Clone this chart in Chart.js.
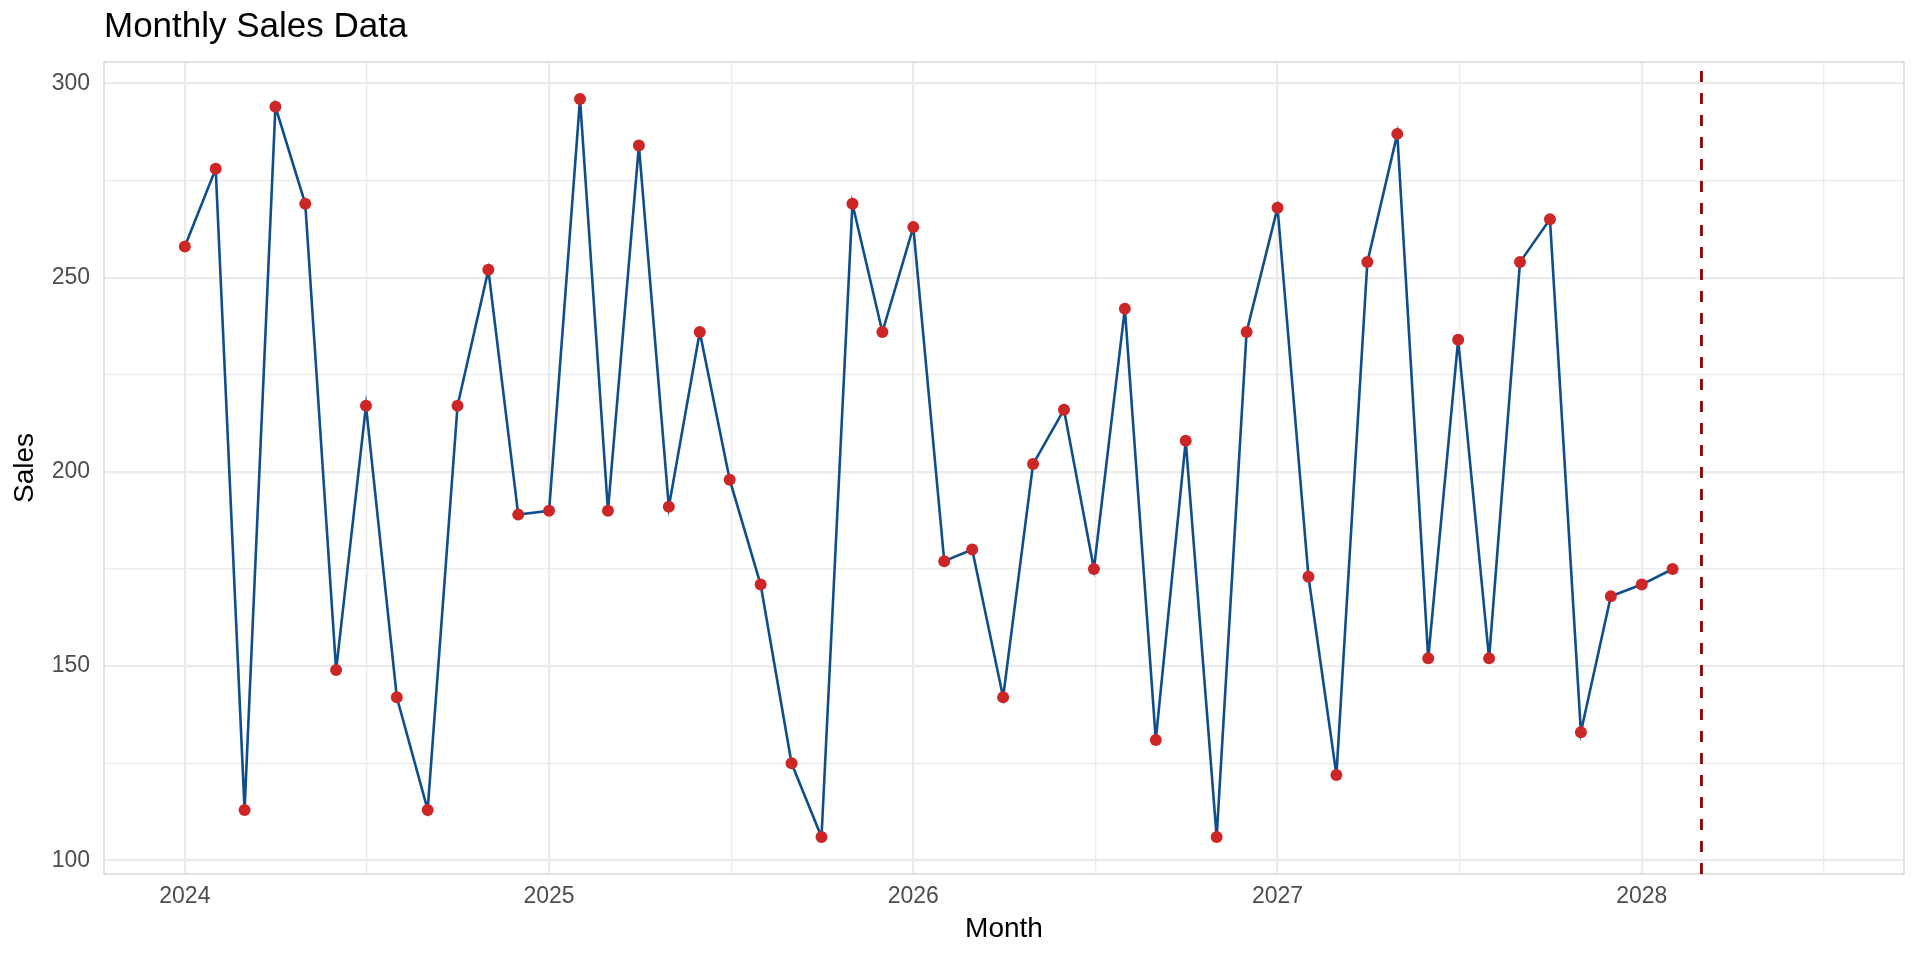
<!DOCTYPE html>
<html>
<head>
<meta charset="utf-8">
<title>Monthly Sales Data</title>
<script src="https://cdn.jsdelivr.net/npm/chart.js@4/dist/chart.umd.min.js"></script>
<style>
  html, body { margin: 0; padding: 0; background: #fff; }
  canvas { display: block; }
</style>
</head>
<body>
<canvas id="sales-chart" width="1920" height="960"></canvas>
<script>
// Monthly sales, Jan 2024 - Feb 2028
const months = [
    '2024-01', '2024-02', '2024-03', '2024-04', '2024-05', '2024-06',
    '2024-07', '2024-08', '2024-09', '2024-10', '2024-11', '2024-12',
    '2025-01', '2025-02', '2025-03', '2025-04', '2025-05', '2025-06',
    '2025-07', '2025-08', '2025-09', '2025-10', '2025-11', '2025-12',
    '2026-01', '2026-02', '2026-03', '2026-04', '2026-05', '2026-06',
    '2026-07', '2026-08', '2026-09', '2026-10', '2026-11', '2026-12',
    '2027-01', '2027-02', '2027-03', '2027-04', '2027-05', '2027-06',
    '2027-07', '2027-08', '2027-09', '2027-10', '2027-11', '2027-12',
    '2028-01', '2028-02'
];
const sales = [
    258, 278, 113, 294, 269, 149, 217, 142, 113, 217, 252, 189,
    190, 296, 190, 284, 191, 236, 198, 171, 125, 106, 269, 236,
    263, 177, 180, 142, 202, 216, 175, 242, 131, 208, 106, 236,
    268, 173, 122, 254, 287, 152, 234, 152, 254, 265, 133, 168,
    171, 175
];
const cutoffMonth = '2028-03';

const xTicks = [2024, 2024.5, 2025, 2025.5, 2026, 2026.5, 2027, 2027.5, 2028, 2028.5];
const yTicks = [100, 125, 150, 175, 200, 225, 250, 275, 300];
const xLimits = [2023.778, 2028.72];
const yLimits = [96.5, 305.5];

const FONT = "'Liberation Sans', Arial, Helvetica, sans-serif";

// 'YYYY-MM' -> fractional year (first day of month)
function toYear(ym) {
    const [y, m] = ym.split('-').map(Number);
    const start = Date.UTC(y, 0, 1);
    const end = Date.UTC(y + 1, 0, 1);
    return y + (Date.UTC(y, m - 1, 1) - start) / (end - start);
}

const points = months.map((m, i) => ({ x: toYear(m), y: sales[i] }));

const panelPlugin = {
    id: 'panel',
    afterLayout(chart) {
        // ggplot aligns the title with the panel, not the canvas
        if (chart.titleBlock) chart.titleBlock.left = chart.chartArea.left;
    },
    beforeDatasetsDraw(chart) {
        const { ctx, chartArea: a } = chart;
        ctx.save();
        ctx.strokeStyle = '#D9D9D9';
        ctx.lineWidth = 1.5;
        ctx.strokeRect(a.left, a.top, a.right - a.left, a.bottom - a.top);
        ctx.restore();
    },
    afterDatasetsDraw(chart) {
        const { ctx, chartArea: a, scales } = chart;
        const x = scales.x.getPixelForValue(toYear(cutoffMonth));
        ctx.save();
        ctx.strokeStyle = '#8B0000';
        ctx.lineWidth = 2.8;
        ctx.setLineDash([11, 11]);
        ctx.beginPath();
        ctx.moveTo(x, a.bottom);
        ctx.lineTo(x, a.top);
        ctx.stroke();
        ctx.restore();
    }
};

function gridStyle(isMajor) {
    return {
        color: '#EBEBEB',
        lineWidth: ctx => isMajor(ctx.tick.value) ? 2.2 : 1.3,
        drawTicks: false
    };
}

const isYear = v => Math.abs(v - Math.round(v)) < 1e-6;
const isFifty = v => v % 50 === 0;

new Chart(document.getElementById('sales-chart'), {
    type: 'line',
    data: {
        datasets: [{
            label: 'Sales',
            data: points,
            borderColor: '#104E8B',
            borderWidth: 2.6,
            pointRadius: 6,
            pointBackgroundColor: '#CD2626',
            pointBorderWidth: 0,
            tension: 0
        }]
    },
    options: {
        responsive: false,
        animation: false,
        events: [],
        layout: { padding: { left: 0, right: 16, top: 0, bottom: 0 } },
        plugins: {
            legend: { display: false },
            tooltip: { enabled: false },
            title: {
                display: true,
                text: 'Monthly Sales Data',
                align: 'start',
                color: '#000',
                font: { family: FONT, size: 35, weight: 'normal' },
                padding: { top: 6.5, bottom: 13.5 }
            }
        },
        scales: {
            x: {
                type: 'linear',
                min: xLimits[0],
                max: xLimits[1],
                afterBuildTicks: s => { s.ticks = xTicks.map(v => ({ value: v })); },
                afterFit: s => { s.height = 86; },
                ticks: {
                    color: '#4D4D4D',
                    font: { family: FONT, size: 23 },
                    padding: 9,
                    maxRotation: 0,
                    autoSkip: false,
                    callback: v => isYear(v) ? String(Math.round(v)) : ''
                },
                grid: gridStyle(isYear),
                border: { display: false },
                title: {
                    display: true,
                    text: 'Month',
                    color: '#000',
                    font: { family: FONT, size: 28 },
                    padding: { top: 0, bottom: 14 }
                }
            },
            y: {
                min: yLimits[0],
                max: yLimits[1],
                afterBuildTicks: s => { s.ticks = yTicks.map(v => ({ value: v })); },
                afterFit: s => { s.width = 104; },
                ticks: {
                    color: '#4D4D4D',
                    font: { family: FONT, size: 23 },
                    padding: 14,
                    autoSkip: false,
                    callback: v => isFifty(v) ? String(v) : ''
                },
                grid: gridStyle(isFifty),
                border: { display: false },
                title: {
                    display: true,
                    text: 'Sales',
                    color: '#000',
                    font: { family: FONT, size: 28 },
                    padding: { top: 8, bottom: 0 }
                }
            }
        }
    },
    plugins: [panelPlugin]
});
</script>
</body>
</html>
